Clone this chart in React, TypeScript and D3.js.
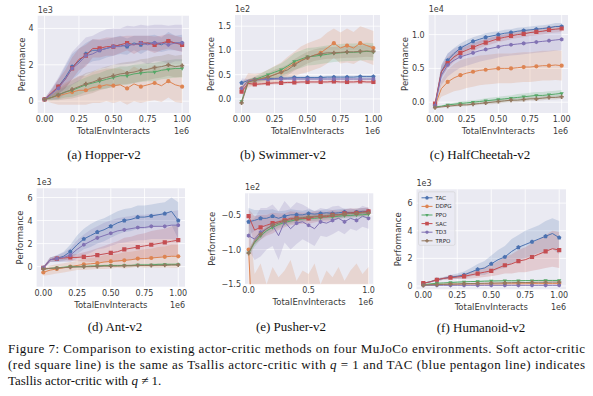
import React, { useEffect } from "react";
import * as d3 from "d3";

// x positions of the logged points (1e6 env interacts)
const steps = [0, 0.05, 0.1, 0.15, 0.2, 0.25, 0.3, 0.35, 0.4, 0.45, 0.5, 0.55, 0.6, 0.65, 0.7, 0.75, 0.8, 0.85, 0.9, 0.95, 1];

const methods = ["TAC", "DDPG", "PPO", "SAC", "TD3", "TRPO"];
const colors = ["#4C72B0", "#DD8452", "#55A868", "#C44E52", "#8172B3", "#937860"];
const shapes = ["pentagon", "circle", "tridown", "square", "hexagon", "plus"];

// Hopper-v2 (1e3)
const hopperTAC = [0.1, 0.4, 0.8, 1.3, 1.9, 2.2, 2.6, 2.8, 2.8, 2.9, 3.0, 3.1, 3.0, 3.2, 3.1, 3.2, 3.2, 3.1, 3.3, 3.2, 3.2];
const hopperTACsd = [0.05, 0.2, 0.4, 0.6, 0.7, 0.7, 0.6, 0.6, 0.55, 0.5, 0.5, 0.5, 0.45, 0.4, 0.5, 0.4, 0.45, 0.4, 0.5, 0.4, 0.45];
const hopperDDPG = [0.1, 0.2, 0.3, 0.4, 0.5, 0.6, 0.6, 0.75, 0.8, 0.9, 0.85, 0.9, 0.7, 0.95, 0.8, 0.9, 1.0, 0.85, 1.1, 0.9, 0.8];
const hopperDDPGsd = [0.05, 0.3, 0.5, 0.6, 0.7, 0.8, 0.8, 0.85, 0.9, 0.9, 0.95, 0.9, 0.9, 0.95, 0.9, 0.9, 0.95, 0.9, 0.9, 0.95, 0.9];
const hopperPPO = [0.1, 0.2, 0.35, 0.5, 0.6, 0.75, 0.9, 1.0, 1.1, 1.2, 1.3, 1.4, 1.4, 1.5, 1.55, 1.6, 1.6, 1.7, 1.75, 1.8, 1.8];
const hopperPPOsd = [0.05, 0.15, 0.25, 0.3, 0.35, 0.4, 0.4, 0.45, 0.45, 0.5, 0.5, 0.5, 0.5, 0.5, 0.5, 0.5, 0.5, 0.5, 0.5, 0.5, 0.5];
const hopperSAC = [0.1, 0.45, 0.8, 1.2, 1.8, 2.3, 2.5, 2.9, 2.9, 3.0, 3.0, 3.1, 3.2, 3.1, 3.2, 3.2, 3.1, 3.2, 3.3, 3.2, 3.1];
const hopperSACsd = [0.05, 0.2, 0.4, 0.5, 0.6, 0.6, 0.6, 0.5, 0.5, 0.5, 0.5, 0.45, 0.4, 0.5, 0.4, 0.4, 0.45, 0.4, 0.4, 0.4, 0.4];
const hopperTD3 = [0.1, 0.4, 0.7, 1.2, 1.8, 2.1, 2.5, 2.6, 2.8, 2.9, 3.0, 3.0, 3.1, 3.1, 3.2, 3.1, 3.2, 3.2, 3.1, 3.2, 3.2];
const hopperTD3sd = [0.05, 0.3, 0.6, 0.8, 0.9, 1.0, 1.0, 1.0, 1.0, 1.05, 1.0, 1.0, 1.05, 1.0, 1.0, 1.05, 1.0, 1.0, 1.05, 1.0, 1.0];
const hopperTRPO = [0.1, 0.2, 0.35, 0.5, 0.65, 0.8, 0.95, 1.05, 1.2, 1.3, 1.4, 1.5, 1.55, 1.6, 1.7, 1.75, 1.85, 1.9, 2.0, 1.9, 1.95];
const hopperTRPOsd = [0.05, 0.15, 0.3, 0.4, 0.5, 0.55, 0.6, 0.6, 0.6, 0.6, 0.6, 0.6, 0.6, 0.6, 0.6, 0.6, 0.6, 0.6, 0.6, 0.6, 0.6];

// Swimmer-v2 (1e2)
const swimTAC = [0.33, 0.38, 0.4, 0.41, 0.42, 0.42, 0.43, 0.43, 0.44, 0.44, 0.44, 0.44, 0.44, 0.45, 0.45, 0.45, 0.45, 0.45, 0.46, 0.46, 0.46];
const swimTACsd = [0.04, 0.03, 0.03, 0.03, 0.03, 0.03, 0.03, 0.03, 0.03, 0.03, 0.03, 0.03, 0.03, 0.03, 0.03, 0.03, 0.03, 0.03, 0.03, 0.03, 0.03];
const swimDDPG = [0.22, 0.38, 0.4, 0.42, 0.45, 0.5, 0.55, 0.65, 0.72, 0.8, 0.85, 0.9, 0.95, 1.05, 1.15, 1.05, 1.1, 1.05, 1.15, 1.1, 1.05];
const swimDDPGsd = [0.08, 0.15, 0.12, 0.12, 0.15, 0.18, 0.2, 0.22, 0.25, 0.28, 0.3, 0.3, 0.3, 0.32, 0.3, 0.32, 0.35, 0.33, 0.35, 0.35, 0.35];
const swimPPO = [-0.05, 0.35, 0.4, 0.45, 0.5, 0.55, 0.6, 0.68, 0.77, 0.82, 0.87, 0.88, 0.9, 0.92, 0.94, 0.95, 0.96, 0.96, 0.97, 0.98, 0.97];
const swimPPOsd = [0.05, 0.05, 0.06, 0.08, 0.1, 0.12, 0.13, 0.15, 0.17, 0.18, 0.18, 0.18, 0.18, 0.18, 0.18, 0.18, 0.18, 0.18, 0.18, 0.18, 0.18];
const swimSAC = [0.15, 0.32, 0.3, 0.31, 0.32, 0.33, 0.33, 0.34, 0.34, 0.35, 0.35, 0.35, 0.35, 0.35, 0.36, 0.35, 0.35, 0.35, 0.36, 0.35, 0.35];
const swimSACsd = [0.05, 0.04, 0.03, 0.03, 0.03, 0.03, 0.03, 0.03, 0.03, 0.03, 0.03, 0.03, 0.03, 0.03, 0.03, 0.03, 0.03, 0.03, 0.03, 0.03, 0.03];
const swimTD3 = [0.22, 0.37, 0.39, 0.4, 0.4, 0.41, 0.41, 0.41, 0.41, 0.41, 0.41, 0.41, 0.41, 0.41, 0.41, 0.41, 0.41, 0.41, 0.41, 0.41, 0.41];
const swimTD3sd = [0.2, 0.04, 0.02, 0.02, 0.02, 0.02, 0.02, 0.02, 0.02, 0.02, 0.02, 0.02, 0.02, 0.02, 0.02, 0.02, 0.02, 0.02, 0.02, 0.02, 0.02];
const swimTRPO = [-0.08, 0.35, 0.38, 0.42, 0.45, 0.5, 0.55, 0.6, 0.7, 0.78, 0.85, 0.9, 0.93, 0.95, 0.95, 0.96, 0.97, 0.97, 0.98, 0.99, 0.98];
const swimTRPOsd = [0.05, 0.05, 0.06, 0.07, 0.08, 0.1, 0.1, 0.11, 0.12, 0.12, 0.12, 0.12, 0.12, 0.12, 0.12, 0.12, 0.12, 0.12, 0.12, 0.12, 0.12];

// HalfCheetah-v2 (1e4)
const cheetahTAC = [-0.05, 0.45, 0.62, 0.72, 0.8, 0.85, 0.9, 0.93, 0.96, 0.98, 1.0, 1.02, 1.03, 1.05, 1.06, 1.07, 1.08, 1.09, 1.1, 1.12, 1.12];
const cheetahTACsd = [0.02, 0.1, 0.1, 0.08, 0.07, 0.07, 0.06, 0.06, 0.06, 0.06, 0.05, 0.05, 0.05, 0.05, 0.05, 0.05, 0.05, 0.05, 0.05, 0.05, 0.05];
const cheetahDDPG = [-0.05, 0.2, 0.3, 0.36, 0.4, 0.43, 0.45, 0.47, 0.48, 0.49, 0.5, 0.5, 0.5, 0.51, 0.52, 0.52, 0.53, 0.54, 0.54, 0.55, 0.54];
const cheetahDDPGsd = [0.02, 0.12, 0.18, 0.2, 0.22, 0.22, 0.22, 0.22, 0.22, 0.22, 0.22, 0.22, 0.22, 0.22, 0.22, 0.22, 0.22, 0.22, 0.22, 0.22, 0.22];
const cheetahPPO = [-0.07, -0.06, -0.04, -0.03, -0.02, -0.01, 0.0, 0.01, 0.02, 0.03, 0.04, 0.05, 0.06, 0.07, 0.08, 0.09, 0.1, 0.1, 0.11, 0.12, 0.13];
const cheetahPPOsd = [0.01, 0.01, 0.02, 0.02, 0.03, 0.03, 0.03, 0.03, 0.04, 0.04, 0.04, 0.04, 0.04, 0.05, 0.05, 0.05, 0.05, 0.05, 0.05, 0.05, 0.05];
const cheetahSAC = [-0.02, 0.45, 0.58, 0.67, 0.73, 0.77, 0.81, 0.85, 0.88, 0.91, 0.94, 0.96, 0.98, 1.0, 1.01, 1.03, 1.04, 1.05, 1.07, 1.08, 1.09];
const cheetahSACsd = [0.02, 0.08, 0.08, 0.07, 0.06, 0.06, 0.06, 0.05, 0.05, 0.05, 0.05, 0.05, 0.05, 0.05, 0.05, 0.05, 0.05, 0.05, 0.05, 0.05, 0.05];
const cheetahTD3 = [-0.05, 0.4, 0.55, 0.62, 0.67, 0.7, 0.73, 0.76, 0.78, 0.8, 0.82, 0.84, 0.85, 0.86, 0.87, 0.88, 0.89, 0.9, 0.91, 0.92, 0.93];
const cheetahTD3sd = [0.02, 0.15, 0.17, 0.17, 0.16, 0.16, 0.16, 0.16, 0.16, 0.16, 0.16, 0.16, 0.16, 0.16, 0.16, 0.16, 0.16, 0.16, 0.16, 0.16, 0.16];
const cheetahTRPO = [-0.08, -0.07, -0.06, -0.05, -0.04, -0.04, -0.03, -0.02, -0.01, 0.0, 0.01, 0.02, 0.03, 0.03, 0.04, 0.05, 0.05, 0.06, 0.07, 0.07, 0.08];
const cheetahTRPOsd = [0.01, 0.01, 0.01, 0.02, 0.02, 0.02, 0.02, 0.02, 0.02, 0.03, 0.03, 0.03, 0.03, 0.03, 0.03, 0.03, 0.03, 0.03, 0.03, 0.03, 0.03];

// Ant-v2 (1e3)
const antTAC = [-0.1, 0.6, 0.7, 0.9, 1.3, 1.9, 2.4, 2.7, 3.0, 3.2, 3.5, 3.8, 4.0, 4.1, 4.3, 4.3, 4.4, 4.5, 4.6, 4.8, 4.0];
const antTACsd = [0.1, 0.2, 0.3, 0.4, 0.6, 0.8, 0.9, 1.0, 1.0, 1.0, 1.0, 1.0, 1.0, 1.0, 1.0, 1.0, 1.0, 1.0, 1.0, 1.2, 1.6];
const antDDPG = [-0.5, -0.3, -0.2, -0.1, 0.0, 0.1, 0.2, 0.25, 0.3, 0.4, 0.45, 0.5, 0.55, 0.6, 0.7, 0.7, 0.75, 0.8, 0.85, 0.9, 0.9];
const antDDPGsd = [0.3, 0.4, 0.4, 0.4, 0.4, 0.4, 0.5, 0.5, 0.5, 0.6, 0.6, 0.6, 0.7, 0.7, 0.7, 0.8, 0.8, 0.9, 0.9, 1.0, 1.0];
const antPPO = [-0.2, -0.15, -0.1, -0.05, 0.0, 0.0, 0.0, 0.05, 0.05, 0.1, 0.1, 0.1, 0.1, 0.1, 0.15, 0.15, 0.15, 0.2, 0.2, 0.2, 0.2];
const antPPOsd = [0.05, 0.05, 0.05, 0.06, 0.06, 0.07, 0.07, 0.08, 0.08, 0.08, 0.09, 0.09, 0.09, 0.1, 0.1, 0.1, 0.1, 0.1, 0.1, 0.1, 0.1];
const antSAC = [-0.1, 0.6, 0.7, 0.75, 0.8, 0.8, 0.85, 0.9, 1.0, 1.1, 1.2, 1.3, 1.5, 1.6, 1.7, 1.8, 1.9, 2.0, 2.1, 2.2, 2.3];
const antSACsd = [0.1, 0.2, 0.2, 0.2, 0.3, 0.3, 0.4, 0.5, 0.6, 0.7, 0.8, 0.9, 1.0, 1.0, 1.1, 1.1, 1.2, 1.2, 1.2, 1.3, 1.3];
const antTD3 = [-0.1, 0.6, 0.7, 0.8, 1.0, 1.5, 1.9, 2.2, 2.5, 2.7, 2.9, 3.1, 3.2, 3.3, 3.4, 3.4, 3.5, 3.5, 3.5, 3.6, 3.6];
const antTD3sd = [0.1, 0.2, 0.3, 0.4, 0.6, 0.8, 0.9, 1.0, 1.0, 1.1, 1.1, 1.1, 1.1, 1.1, 1.1, 1.1, 1.1, 1.1, 1.1, 1.2, 1.3];
const antTRPO = [-0.2, -0.15, -0.12, -0.08, -0.05, -0.02, 0.0, 0.0, 0.02, 0.05, 0.05, 0.05, 0.08, 0.08, 0.1, 0.1, 0.1, 0.12, 0.12, 0.15, 0.15];
const antTRPOsd = [0.05, 0.05, 0.05, 0.05, 0.06, 0.06, 0.06, 0.06, 0.07, 0.07, 0.07, 0.07, 0.08, 0.08, 0.08, 0.08, 0.08, 0.08, 0.08, 0.08, 0.08];

// Pusher-v2 (1e2)
const pushTAC = [-0.6, -0.58, -0.55, -0.55, -0.52, -0.55, -0.52, -0.5, -0.5, -0.5, -0.48, -0.49, -0.48, -0.47, -0.48, -0.47, -0.46, -0.47, -0.46, -0.45, -0.45];
const pushTACsd = [0.2, 0.15, 0.12, 0.12, 0.1, 0.1, 0.08, 0.08, 0.07, 0.06, 0.06, 0.05, 0.05, 0.05, 0.05, 0.05, 0.05, 0.05, 0.05, 0.05, 0.05];
const pushDDPG = [-1.0, -2.8, -2.8, -2.8, -2.8, -2.8, -2.8, -2.8, -2.8, -2.8, -2.8, -2.8, -2.8, -2.8, -2.8, -2.8, -2.8, -2.8, -2.8, -2.8, -2.8];
const pushDDPGsd = [0.5, 1.45, 1.6, 1.3, 1.55, 1.4, 1.5, 1.65, 1.35, 1.5, 1.45, 1.6, 1.3, 1.5, 1.4, 1.55, 1.35, 1.5, 1.6, 1.45, 1.55];
const pushPPO = [-1.05, -0.9, -0.8, -0.73, -0.68, -0.64, -0.61, -0.59, -0.57, -0.56, -0.55, -0.55, -0.54, -0.53, -0.53, -0.52, -0.51, -0.51, -0.5, -0.5, -0.49];
const pushPPOsd = [0.05, 0.06, 0.06, 0.05, 0.05, 0.05, 0.05, 0.04, 0.04, 0.04, 0.04, 0.04, 0.04, 0.04, 0.04, 0.04, 0.04, 0.04, 0.04, 0.04, 0.04];
const pushSAC = [-0.52, -0.72, -0.68, -0.65, -0.62, -0.6, -0.58, -0.55, -0.55, -0.55, -0.55, -0.53, -0.52, -0.53, -0.5, -0.5, -0.48, -0.47, -0.47, -0.46, -0.45];
const pushSACsd = [0.1, 0.2, 0.18, 0.15, 0.15, 0.12, 0.1, 0.1, 0.09, 0.08, 0.08, 0.08, 0.07, 0.07, 0.07, 0.06, 0.06, 0.06, 0.06, 0.06, 0.06];
const pushTD3 = [-0.8, -0.85, -0.75, -0.7, -0.65, -0.8, -0.6, -0.7, -0.62, -0.6, -0.65, -0.7, -0.6, -0.62, -0.58, -0.55, -0.6, -0.55, -0.58, -0.52, -0.55];
const pushTD3sd = [0.2, 0.3, 0.35, 0.3, 0.3, 0.35, 0.3, 0.3, 0.3, 0.25, 0.25, 0.25, 0.2, 0.2, 0.2, 0.18, 0.18, 0.15, 0.15, 0.15, 0.15];
const pushTRPO = [-1.05, -0.88, -0.78, -0.7, -0.65, -0.62, -0.59, -0.57, -0.55, -0.54, -0.53, -0.52, -0.52, -0.51, -0.5, -0.5, -0.49, -0.48, -0.48, -0.47, -0.47];
const pushTRPOsd = [0.04, 0.05, 0.05, 0.04, 0.04, 0.04, 0.04, 0.04, 0.04, 0.04, 0.04, 0.04, 0.04, 0.04, 0.04, 0.04, 0.04, 0.04, 0.04, 0.04, 0.04];

// Humanoid-v2 (1e3)
const humTAC = [0.2, 0.3, 0.45, 0.55, 0.65, 0.7, 0.8, 1.0, 1.2, 1.3, 1.6, 1.9, 2.1, 2.5, 2.8, 3.0, 3.2, 3.4, 3.6, 3.8, 3.5];
const humTACsd = [0.05, 0.05, 0.1, 0.1, 0.15, 0.2, 0.25, 0.3, 0.4, 0.5, 0.6, 0.7, 0.8, 0.9, 0.9, 1.0, 1.0, 1.0, 1.1, 1.1, 1.2];
const humDDPG = [0.1, 0.1, 0.12, 0.12, 0.13, 0.13, 0.14, 0.14, 0.15, 0.15, 0.15, 0.15, 0.16, 0.16, 0.16, 0.16, 0.17, 0.17, 0.17, 0.17, 0.17];
const humDDPGsd = [0.02, 0.02, 0.02, 0.02, 0.02, 0.02, 0.02, 0.02, 0.02, 0.02, 0.02, 0.02, 0.02, 0.02, 0.02, 0.02, 0.02, 0.02, 0.02, 0.02, 0.02];
const humPPO = [0.1, 0.15, 0.2, 0.22, 0.25, 0.28, 0.3, 0.32, 0.33, 0.35, 0.36, 0.37, 0.38, 0.38, 0.38, 0.39, 0.39, 0.4, 0.4, 0.4, 0.4];
const humPPOsd = [0.02, 0.02, 0.03, 0.03, 0.03, 0.04, 0.04, 0.04, 0.04, 0.05, 0.05, 0.05, 0.05, 0.05, 0.05, 0.05, 0.05, 0.05, 0.05, 0.05, 0.05];
const humSAC = [0.2, 0.3, 0.45, 0.55, 0.6, 0.65, 0.7, 0.8, 0.9, 1.0, 1.1, 1.3, 1.5, 1.6, 1.8, 1.9, 2.1, 2.3, 2.5, 2.7, 2.6];
const humSACsd = [0.05, 0.05, 0.1, 0.1, 0.1, 0.15, 0.2, 0.25, 0.3, 0.35, 0.4, 0.5, 0.6, 0.7, 0.8, 0.9, 1.0, 1.1, 1.2, 1.3, 1.3];
const humTD3 = [0.05, 0.05, 0.05, 0.05, 0.05, 0.05, 0.05, 0.05, 0.05, 0.05, 0.05, 0.05, 0.05, 0.05, 0.05, 0.05, 0.05, 0.05, 0.05, 0.05, 0.05];
const humTD3sd = [0.01, 0.01, 0.01, 0.01, 0.01, 0.01, 0.01, 0.01, 0.01, 0.01, 0.01, 0.01, 0.01, 0.01, 0.01, 0.01, 0.01, 0.01, 0.01, 0.01, 0.01];
const humTRPO = [0.05, 0.08, 0.1, 0.12, 0.14, 0.15, 0.17, 0.18, 0.19, 0.2, 0.21, 0.22, 0.23, 0.24, 0.25, 0.25, 0.26, 0.27, 0.27, 0.28, 0.28];
const humTRPOsd = [0.02, 0.02, 0.02, 0.03, 0.03, 0.03, 0.03, 0.03, 0.03, 0.03, 0.03, 0.03, 0.03, 0.03, 0.03, 0.03, 0.03, 0.03, 0.03, 0.03, 0.03];

const captionLines = [
  "Figure 7: Comparison to existing actor-critic methods on four MuJoCo environments. Soft actor-critic",
  "(red square line) is the same as Tsallis actorc-critic with",
  "Tasllis actor-critic with",
];

type Panel = {
  title: string; cx: number; capY: number;
  left: number; right: number; top: number; bottom: number;
  xDom: number[]; xTicks: number[]; xFmt: string;
  yDom: number[]; yTicks: number[]; yFmt: (v: number) => string;
  exp: string; ylabX: number;
  means: number[][]; sds: number[][]; legend?: boolean;
};

const minus = (s: string) => s.replace("-", "\u2212");
const SERIF = "'Liberation Serif', 'Times New Roman', Times, serif";

const panels: Panel[] = [
  { title: "(a) Hopper-v2", cx: 104, capY: 159, left: 37.7, right: 189, top: 15.7, bottom: 113,
    xDom: [-0.05, 1.05], xTicks: [0, 0.25, 0.5, 0.75, 1], xFmt: ".2f",
    yDom: [-0.65, 4.7], yTicks: [0, 2, 4], yFmt: (v) => String(v), exp: "1e3", ylabX: 22,
    means: [hopperTAC, hopperDDPG, hopperPPO, hopperSAC, hopperTD3, hopperTRPO],
    sds: [hopperTACsd, hopperDDPGsd, hopperPPOsd, hopperSACsd, hopperTD3sd, hopperTRPOsd] },
  { title: "(b) Swimmer-v2", cx: 283, capY: 159, left: 235, right: 380, top: 15, bottom: 113,
    xDom: [-0.05, 1.05], xTicks: [0, 0.25, 0.5, 0.75, 1], xFmt: ".2f",
    yDom: [-0.29, 1.73], yTicks: [0, 0.5, 1, 1.5], yFmt: (v) => v.toFixed(1), exp: "1e2", ylabX: 211,
    means: [swimTAC, swimDDPG, swimPPO, swimSAC, swimTD3, swimTRPO],
    sds: [swimTACsd, swimDDPGsd, swimPPOsd, swimSACsd, swimTD3sd, swimTRPOsd] },
  { title: "(c) HalfCheetah-v2", cx: 480, capY: 159, left: 428.7, right: 568, top: 15, bottom: 113,
    xDom: [-0.05, 1.05], xTicks: [0, 0.25, 0.5, 0.75, 1], xFmt: ".2f",
    yDom: [-0.16, 1.29], yTicks: [0, 0.5, 1], yFmt: (v) => v.toFixed(1), exp: "1e4", ylabX: 405,
    means: [cheetahTAC, cheetahDDPG, cheetahPPO, cheetahSAC, cheetahTD3, cheetahTRPO],
    sds: [cheetahTACsd, cheetahDDPGsd, cheetahPPOsd, cheetahSACsd, cheetahTD3sd, cheetahTRPOsd] },
  { title: "(d) Ant-v2", cx: 115, capY: 331, left: 36.6, right: 185, top: 188.3, bottom: 286.7,
    xDom: [-0.05, 1.05], xTicks: [0, 0.25, 0.5, 0.75, 1], xFmt: ".2f",
    yDom: [-1.74, 6.8], yTicks: [0, 2, 4, 6], yFmt: (v) => String(v), exp: "1e3", ylabX: 20,
    means: [antTAC, antDDPG, antPPO, antSAC, antTD3, antTRPO],
    sds: [antTACsd, antDDPGsd, antPPOsd, antSACsd, antTD3sd, antTRPOsd] },
  { title: "(e) Pusher-v2", cx: 291, capY: 331, left: 245, right: 373.3, top: 193.3, bottom: 284.3,
    xDom: [-0.03, 1.04], xTicks: [0, 0.5, 1], xFmt: ".1f",
    yDom: [-1.5, -0.19], yTicks: [-1.5, -1, -0.5], yFmt: (v) => minus(v.toFixed(1)), exp: "1e2", ylabX: 212,
    means: [pushTAC, pushDDPG, pushPPO, pushSAC, pushTD3, pushTRPO],
    sds: [pushTACsd, pushDDPGsd, pushPPOsd, pushSACsd, pushTD3sd, pushTRPOsd] },
  { title: "(f) Humanoid-v2", cx: 481, capY: 332, left: 416.5, right: 566, top: 189.3, bottom: 289.3,
    xDom: [-0.05, 1.05], xTicks: [0, 0.25, 0.5, 0.75, 1], xFmt: ".2f",
    yDom: [-0.24, 7.0], yTicks: [0, 2, 4, 6], yFmt: (v) => String(v), exp: "1e3", ylabX: 398,
    means: [humTAC, humDDPG, humPPO, humSAC, humTD3, humTRPO],
    sds: [humTACsd, humDDPGsd, humPPOsd, humSACsd, humTD3sd, humTRPOsd], legend: true },
];

function poly(n: number, r: number, rot: number) {
  const pts = d3.range(n).map((k) => {
    const a = rot + (k * 2 * Math.PI) / n;
    return [r * Math.cos(a), r * Math.sin(a)];
  });
  return "M" + pts.map((p) => p[0].toFixed(2) + "," + p[1].toFixed(2)).join("L") + "Z";
}

function markerPath(shape: string, r: number) {
  if (shape === "pentagon") return poly(5, r * 1.1, -Math.PI / 2);
  if (shape === "hexagon") return poly(6, r, -Math.PI / 2);
  if (shape === "tridown") return poly(3, r * 1.15, Math.PI / 2);
  if (shape === "square") return `M${-r},${-r}H${r}V${r}H${-r}Z`;
  if (shape === "plus") {
    const w = r * 0.4;
    return `M${-w},${-r}H${w}V${-w}H${r}V${w}H${w}V${r}H${-w}V${w}H${-r}V${-w}H${-w}Z`;
  }
  return `M${r},0A${r},${r} 0 1,1 ${-r},0A${r},${r} 0 1,1 ${r},0Z`;
}

const tickFont = { fontFamily: "DejaVu Sans", fontSize: 8, fill: "#3a3a3a" };

function Chart({ p, i }: { p: Panel; i: number }) {
  const x = d3.scaleLinear().domain(p.xDom).range([p.left, p.right]);
  const y = d3.scaleLinear().domain(p.yDom).range([p.bottom, p.top]);
  const fmt = d3.format(p.xFmt);
  const line = d3.line<number>().x((_, k) => x(steps[k])).y((v) => y(v));
  const clip = `clip-${i}`;
  const midY = (p.top + p.bottom) / 2;
  return (
    <g>
      <defs>
        <clipPath id={clip}>
          <rect x={p.left} y={p.top} width={p.right - p.left} height={p.bottom - p.top} />
        </clipPath>
      </defs>
      <rect x={p.left} y={p.top} width={p.right - p.left} height={p.bottom - p.top} fill="#EAEAF2" />
      {p.xTicks.map((t) => (
        <line key={"gx" + t} x1={x(t)} x2={x(t)} y1={p.top} y2={p.bottom} stroke="#fff" strokeWidth={0.8} />
      ))}
      {p.yTicks.map((t) => (
        <line key={"gy" + t} x1={p.left} x2={p.right} y1={y(t)} y2={y(t)} stroke="#fff" strokeWidth={0.8} />
      ))}
      <g clipPath={`url(#${clip})`}>
        {p.means.map((m, s) => {
          const sd = p.sds[s];
          const area = d3.area<number>()
            .x((_, k) => x(steps[k]))
            .y0((v, k) => y(v - sd[k]))
            .y1((v, k) => y(v + sd[k]));
          return <path key={"b" + s} d={area(m) || ""} fill={colors[s]} opacity={0.2} />;
        })}
        {p.means.map((m, s) => (
          <g key={"l" + s}>
            <path d={line(m) || ""} fill="none" stroke={colors[s]} strokeWidth={1} />
            {m.map((v, k) =>
              k % 2 === 0 ? (
                <path key={k} d={markerPath(shapes[s], 2.1)} transform={`translate(${x(steps[k])},${y(v)})`} fill={colors[s]} />
              ) : null
            )}
          </g>
        ))}
      </g>
      {p.xTicks.map((t) => (
        <text key={"tx" + t} x={x(t)} y={p.bottom + 9} textAnchor="middle" {...tickFont}>{fmt(t)}</text>
      ))}
      {p.yTicks.map((t) => (
        <text key={"ty" + t} x={p.left - 4} y={y(t) + 3} textAnchor="end" {...tickFont}>{p.yFmt(t)}</text>
      ))}
      <text x={p.left} y={p.top - 3} {...tickFont}>{p.exp}</text>
      <text x={p.right} y={p.bottom + 21} textAnchor="end" {...tickFont}>1e6</text>
      <text x={(p.left + p.right) / 2} y={p.bottom + 21} textAnchor="middle" fontFamily="DejaVu Sans" fontSize={8.5} fill="#3a3a3a">TotalEnvInteracts</text>
      <text transform={`translate(${p.ylabX + 3},${midY}) rotate(-90)`} textAnchor="middle" fontFamily="DejaVu Sans" fontSize={8.5} fill="#3a3a3a">Performance</text>
      <text x={p.cx} y={p.capY} textAnchor="middle" fontFamily={SERIF} fontSize={13} fill="#111">{p.title}</text>
      {p.legend ? (
        <g>
          <rect x={p.left + 2} y={p.top + 2.5} width={36.5} height={53.5} rx={1.5} fill="#EAEAF2" fillOpacity={0.8} stroke="#ccc" strokeWidth={0.5} />
          {methods.map((name, s) => {
            const ly = p.top + 8.5 + s * 8.6;
            return (
              <g key={name}>
                <line x1={p.left + 5} x2={p.left + 16} y1={ly} y2={ly} stroke={colors[s]} strokeWidth={1} />
                <path d={markerPath(shapes[s], 1.8)} transform={`translate(${p.left + 10.5},${ly})`} fill={colors[s]} />
                <text x={p.left + 19} y={ly + 2} fontFamily="DejaVu Sans" fontSize={5.5} fill="#262626">{name}</text>
              </g>
            );
          })}
        </g>
      ) : null}
    </g>
  );
}

export default function App() {
  useEffect(() => {
    document.body.style.margin = "0";
  }, []);
  const serif = { fontFamily: SERIF, fontSize: 13, fill: "#111" };
  return (
    <svg width={593} height={396} style={{ display: "block", background: "#fff" }}>
      {panels.map((p, i) => (
        <Chart key={i} p={p} i={i} />
      ))}
      <text x={8} y={353} textLength={577} lengthAdjust="spacing" {...serif}>{captionLines[0]}</text>
      <text x={8} y={369} textLength={577} lengthAdjust="spacing" {...serif}>
        {captionLines[1] + " "}<tspan fontStyle="italic">q</tspan>{" = 1 and TAC (blue pentagon line) indicates"}
      </text>
      <text x={8} y={385} {...serif}>
        {captionLines[2] + " "}<tspan fontStyle="italic">q</tspan>{" \u2260 1."}
      </text>
    </svg>
  );
}
